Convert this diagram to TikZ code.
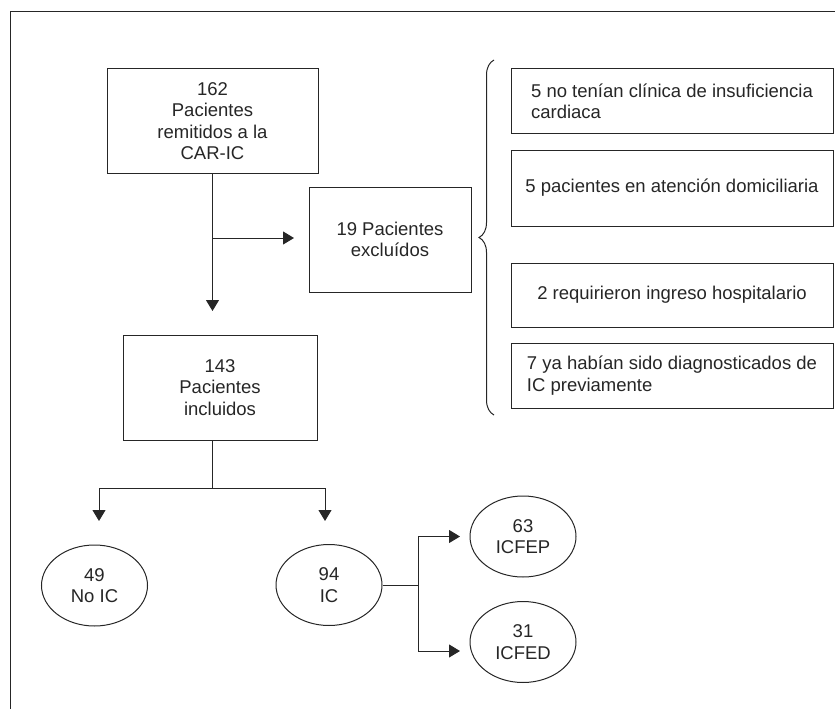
\documentclass[tikz,border=0pt]{standalone}
\usepackage{fontspec}
\setmainfont{Liberation Sans}
\usetikzlibrary{arrows.meta,shapes.geometric,decorations.pathreplacing}
\begin{document}
\begin{tikzpicture}[x=1pt, y=-1pt, >={Triangle[width=13pt,length=11pt]},
    line width=1pt, color=black!85,
    font=\fontsize{18.5pt}{21.3pt}\selectfont,
    box/.style={draw, rectangle, align=center, inner sep=0pt},
    reason/.style={draw, rectangle, align=left, inner sep=0pt, minimum width=322pt},
    oval/.style={draw, ellipse, align=center, inner sep=0pt, minimum width=106pt, minimum height=81pt}]
    \useasboundingbox (0,0) rectangle (835,709);
    \draw (10,709) -- (10,12) -- (835,12);

    % main flow
    \node[box, minimum width=211pt, minimum height=105pt] (remit) at (212.5,121) {162\\Pacientes\\remitidos a la\\CAR-IC};
    \node[box, minimum width=162pt, minimum height=105pt] (excl) at (390,239.5) {19 Pacientes\\excluídos};
    \node[box, minimum width=194pt, minimum height=105pt] (incl) at (220,387.5) {143\\Pacientes\\incluidos};

    % reasons for exclusion
    \node[reason, minimum height=64pt] (why1) at (672,101) {5 no tenían clínica de insuficiencia\\cardiaca};
    \node[reason, minimum height=76pt] (why2) at (672,188) {5 pacientes en atención domiciliaria};
    \node[reason, minimum height=64pt] (why3) at (672,295) {2 requirieron ingreso hospitalario};
    \node[reason, minimum height=65pt] (why4) at (672,375.5) {7 ya habían sido diagnosticados de\\IC previamente};
    \coordinate (bracetop) at (494,60);
    \coordinate (bracebot) at (494,415);
    \draw[decorate, decoration={brace, amplitude=15pt}] (bracebot) -- (bracetop);

    \node[oval] (noic) at (94.5,585.5) {49\\No IC};
    \node[oval] (ic) at (329,585) {94\\IC};
    \node[oval] (icfep) at (523,536.5) {63\\ICFEP};
    \node[oval] (icfed) at (523,642) {31\\ICFED};

    \coordinate (down) at (212.5,311);
    \coordinate (side) at (294,238);
    \coordinate (split) at (212.5,488);
    \coordinate (tipL) at (99,521);
    \coordinate (tipR) at (325,521);
    \coordinate (fork) at (418,585);
    \coordinate (tipA) at (460,536.5);
    \coordinate (tipB) at (460,651);

    \draw[->] (remit.south) -- (down);
    \draw[->] (remit.south |- side) -- (side);
    \draw (incl.south -| split) -- (split);
    \draw[->] (split) -| (tipL);
    \draw[->] (split) -| (tipR);
    \draw (ic.east) -- (fork);
    \draw[->] (fork) |- (tipA);
    \draw[->] (fork) |- (tipB);
\end{tikzpicture}
\end{document}
